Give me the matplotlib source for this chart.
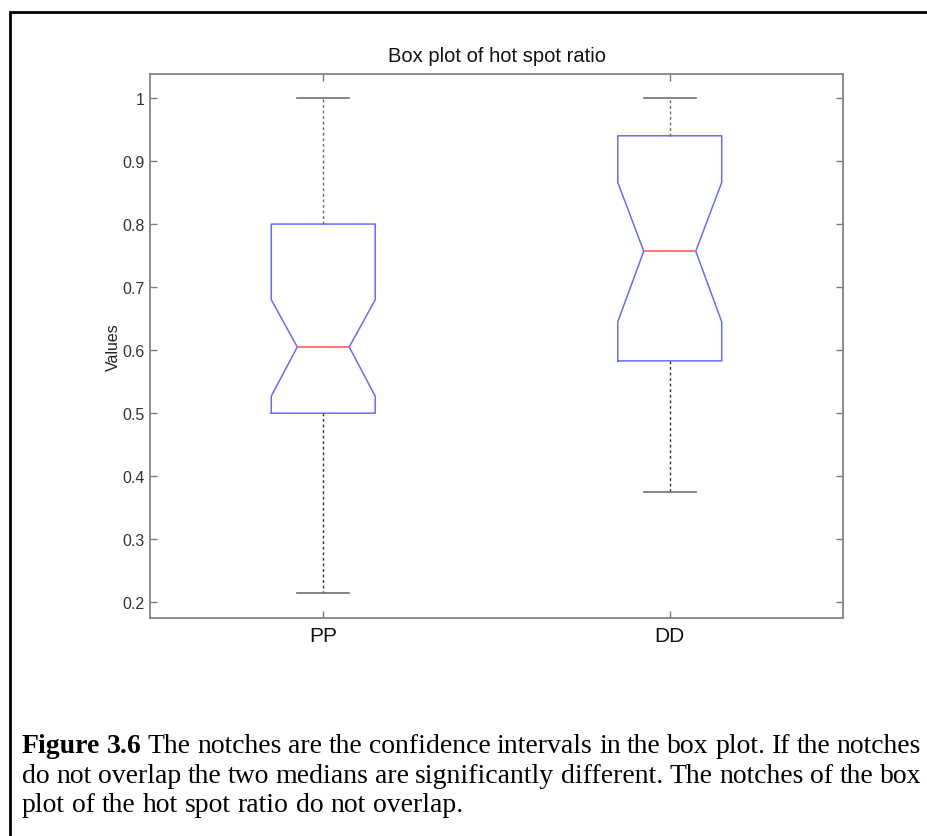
import numpy as np
import matplotlib.pyplot as plt
from matplotlib.patches import Rectangle

# box plot statistics
groups = ['PP', 'DD']
whisker_low = [0.215, 0.375]
q1 = [0.50, 0.583]
medians = [0.605, 0.757]
q3 = [0.80, 0.94]
whisker_high = [1.0, 1.0]
notch_low = [0.527, 0.645]
notch_high = [0.68, 0.866]
yticks = [0.2, 0.3, 0.4, 0.5, 0.6, 0.7, 0.8, 0.9, 1.0]
ytick_labels = ['0.2', '0.3', '0.4', '0.5', '0.6', '0.7', '0.8', '0.9', '1']

caption_lines = [
    "Figure 3.6 The notches are the confidence intervals in the box plot. If the notches",
    "do not overlap the two medians are significantly different. The notches of the box",
    "plot of the hot spot ratio do not overlap.",
]

W, H = 927, 837
fig = plt.figure(figsize=(W / 100, H / 100), dpi=100)
fig.patch.set_facecolor('white')

ax = fig.add_axes([150 / W, 1 - 619 / H, (843 - 150) / W, (619 - 75) / H])

stats = []
for i, g in enumerate(groups):
    stats.append(dict(label=g, whislo=whisker_low[i], q1=q1[i], med=medians[i],
                      q3=q3[i], whishi=whisker_high[i], cilo=notch_low[i],
                      cihi=notch_high[i], fliers=[]))

parts = ax.bxp(stats, positions=[1, 2], widths=0.3, shownotches=True,
               boxprops=dict(color='#6a6aff', lw=1.1),
               medianprops=dict(color='#ff6a6a', lw=1.3),
               whiskerprops=dict(color='#666666', lw=1.0, linestyle=(0, (2, 2))),
               capprops=dict(color='#707070', lw=1.2))
# lower whiskers look darker than the upper ones
for k, w in enumerate(parts['whiskers']):
    if k % 2 == 0:
        w.set_color('#333333')

ax.set_xlim(0.5, 2.5)
ax.set_ylim(0.1752, 1.038)
ax.set_yticks(yticks)
ax.set_yticklabels(ytick_labels)
ax.set_xticks([1, 2])
ax.set_xticklabels(groups)

for s in ax.spines.values():
    s.set_color('#7a7a7a')
    s.set_linewidth(1.2)
ax.tick_params(direction='in', top=True, right=True, length=5, width=1,
               color='#7a7a7a')
ax.tick_params(axis='y', labelsize=11.5, labelcolor='#333333', pad=4)
ax.tick_params(axis='x', labelsize=15, labelcolor='#111111', pad=6)
for lab in ax.get_xticklabels() + ax.get_yticklabels():
    lab.set_family('Liberation Sans')

ax.set_title('Box plot of hot spot ratio', fontsize=14.5, family='Liberation Sans',
             color='#111111', pad=9)
ax.set_ylabel('Values', fontsize=11.5, family='Liberation Sans', color='#222222',
              labelpad=1)

# outer frame, open on the right and bottom
fig.add_artist(Rectangle((10 / W, -0.05), 1.2, 1 - 13 / H + 0.05,
                         transform=fig.transFigure, fill=False, lw=2,
                         edgecolor='black'))

# caption, justified like the page it came from
fig.canvas.draw()
renderer = fig.canvas.get_renderer()
left_px, right_px = 22, 921
base_px = [753, 783, 812]
fs = 20
for li, line in enumerate(caption_lines):
    words = line.split(' ')
    arts = []
    for wi, word in enumerate(words):
        bold = li == 0 and wi < 2
        t = fig.text(0, 1 - base_px[li] / H, word, fontsize=fs, family='Liberation Serif',
                     fontweight='bold' if bold else 'normal', va='baseline', ha='left')
        arts.append(t)
    widths = [a.get_window_extent(renderer).width for a in arts]
    space = fig.text(0, 0, 'a b', fontsize=fs, family='Liberation Serif')
    sp = space.get_window_extent(renderer).width
    space.set_text('ab')
    sp -= space.get_window_extent(renderer).width
    space.remove()
    if li < len(caption_lines) - 1:
        gap = (right_px - left_px - sum(widths)) / (len(words) - 1)
    else:
        gap = sp
    x = left_px
    for a, w in zip(arts, widths):
        a.set_x(x / W)
        x += w + gap

fig.savefig('out.png', dpi=100)
